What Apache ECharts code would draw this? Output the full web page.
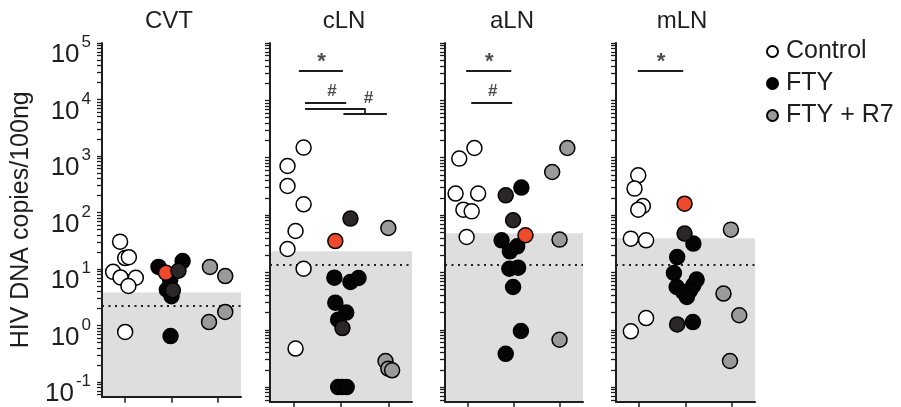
<!DOCTYPE html>
<html>
<head>
<meta charset="utf-8">
<script src="https://cdn.jsdelivr.net/npm/echarts@6/dist/echarts.min.js"></script>
<style>
html, body { margin: 0; padding: 0; background: #fff; }
#main { width: 901px; height: 407px; }
</style>
</head>
<body>
<div id="main"></div>
<script>
// panels and groups
const panels = ['CVT', 'cLN', 'aLN', 'mLN'];
const groups = ['Control', 'FTY', 'FTY + R7'];
const yTicks = [0.1, 1, 10, 100, 1000, 10000, 100000];
const Y_MIN = 0.055;

// each point: [x jitter around group index, HIV DNA copies/100ng]
const controlData = [
  [[-0.11, 30.5], [0.0, 15.6], [0.08, 16.2], [-0.26, 8.9], [-0.1, 7.1], [0.23, 7.0], [0.07, 5.0], [0.0, 0.77]],
  [[0.21, 1500], [-0.13, 716], [-0.13, 321], [0.21, 154], [0.04, 52.7], [-0.13, 25.6], [0.21, 11.6], [0.04, 0.47]],
  [[0.14, 1476], [-0.19, 964], [-0.27, 237], [0.22, 237], [-0.1, 124], [0.08, 116], [-0.03, 41.4]],
  [[-0.02, 493], [-0.1, 289], [0.08, 144], [-0.02, 124], [-0.18, 38.8], [0.15, 36.3], [0.15, 1.6], [-0.18, 0.94]]
];
const ftyData = [
  [[0.72, 10.9], [1.24, 13.8], [0.97, 6.4], [0.90, 4.3], [1.0, 3.3], [0.98, 0.65], [0.88, 8.6], [1.15, 9.3], [1.03, 4.2]],
  [[0.86, 8.1], [1.2, 6.8], [1.37, 8.0], [0.88, 2.97], [1.11, 1.99], [0.94, 1.5], [0.94, 0.1], [1.03, 0.1], [1.12, 0.1],
   [0.88, 35.2], [1.2, 86.7], [1.03, 1.07]],
  [[1.16, 301], [0.73, 36.3], [1.07, 28.5], [0.91, 23.3], [0.90, 11.6], [1.09, 12.1], [0.98, 5.56], [1.15, 0.95], [0.82, 0.38],
   [0.82, 221], [0.98, 81.3], [1.25, 44.4]],
  [[1.17, 31.8], [0.82, 18.5], [0.75, 9.77], [1.24, 7.5], [0.81, 5.56], [1.17, 5.96], [1.1, 4.87], [0.95, 4.55], [1.03, 3.72],
   [1.16, 1.36], [0.82, 1.24], [0.98, 47.5], [0.98, 158]]
];
// which FTY animals are marked red / dark
const ftyRed = [6, 9, 11, 12];
const ftyDark = [[7, 8], [10, 11], [9, 10], [10, 11]];
const r7Data = [
  [[1.83, 10.9], [2.16, 7.5], [2.16, 1.74], [1.81, 1.15]],
  [[2.0, 59.4], [1.94, 0.285], [2.0, 0.21], [2.08, 0.196]],
  [[2.16, 1476], [1.83, 563], [1.99, 37.3], [1.99, 0.67]],
  [[1.98, 55.7], [1.82, 4.27], [2.16, 1.79], [1.96, 0.285]]
];
// detection limit (shaded) and cutoff (dotted)
const lodLimit = [3.83, 23.3, 48, 39.4];
const cutoff = [2.27, 13.8, 13.8, 13.8];

// significance bars: [x1, y1, x2, y2] and labels [text, x, y]
const sigLines = [
  [],
  [[0.11, 33400, 1.04, 33400], [0.24, 9250, 1.11, 9250], [0.24, 7260, 1.51, 7260], [1.51, 7260, 1.51, 5940], [1.05, 5940, 1.97, 5940]],
  [[-0.04, 33400, 0.94, 33400], [0.07, 9250, 0.96, 9250]],
  [[-0.03, 33400, 0.95, 33400]]
];
const sigText = [
  [],
  [['*', 0.59, 46000], ['#', 0.81, 14400], ['#', 1.58, 10900]],
  [['*', 0.46, 46000], ['#', 0.54, 14400]],
  [['*', 0.47, 46000]]
];

const FONT = 'Liberation Sans';
const INK = '#1e1e1e';
const gridPos = [{ left: 102, width: 139 }, { left: 270, width: 142 }, { left: 445, width: 138 }, { left: 616, width: 139 }];
const titleX = [169, 344, 512, 682];

// decades plus the 2..9 steps in between
const allTicks = yTicks.slice();
for (let d = -2; d < 5; d++) {
  for (let m = 2; m <= 9; m++) {
    const v = +(m * Math.pow(10, d)).toPrecision(3);
    if (v >= Y_MIN) allTicks.push(v);
  }
}

const chart = echarts.init(document.getElementById('main'));

const grid = [], xAxis = [], yAxis = [], series = [];
panels.forEach((p, i) => {
  grid.push({ left: gridPos[i].left, width: gridPos[i].width, top: 43, height: 359 });
  xAxis.push({
    type: 'value', gridIndex: i, min: -0.5, max: 2.5, z: 5,
    axisLine: { onZero: false, lineStyle: { color: INK, width: 2 } },
    axisTick: { customValues: [0, 1, 2], length: 6, lineStyle: { color: INK, width: 1.5 } },
    axisLabel: { show: false },
    splitLine: { show: false }
  });
  yAxis.push({
    type: 'log', gridIndex: i, position: 'left', min: Y_MIN, max: 100000, z: 5,
    axisLine: { show: true, onZero: false, lineStyle: { color: INK, width: 2 } },
    axisTick: { show: true, customValues: allTicks, length: 5, lineStyle: { color: INK, width: 1.3 } },
    axisLabel: i === 0 ? {
      show: true,
      customValues: yTicks,
      margin: 11,
      padding: [16, 0, 0, 0],
      formatter: v => '{b|10}{s|' + Math.round(Math.log10(v)) + '}',
      rich: {
        b: { fontSize: 26, lineHeight: 34, verticalAlign: 'bottom', color: INK, fontFamily: FONT },
        s: { fontSize: 17, lineHeight: 17, verticalAlign: 'top', color: INK, fontFamily: FONT, padding: [0, 0, 0, 2] }
      }
    } : { show: false },
    splitLine: { show: false },
    name: i === 0 ? 'HIV DNA copies/100ng' : '',
    nameLocation: 'middle',
    nameRotate: 90,
    nameGap: 68,
    nameTextStyle: { fontSize: 25, color: INK, fontFamily: FONT }
  });

  // shaded detection region and dotted cutoff
  series.push({
    type: 'scatter', xAxisIndex: i, yAxisIndex: i, data: [], z: 1, silent: true,
    markArea: {
      silent: true, z: 1,
      itemStyle: { color: '#dedede' },
      data: [[{ yAxis: Y_MIN }, { yAxis: lodLimit[i] }]]
    },
    markLine: {
      silent: true, z: 1, symbol: 'none',
      label: { show: false },
      lineStyle: { color: INK, width: 2, type: [2, 4.5] },
      data: [{ yAxis: cutoff[i] }]
    }
  });

  series.push({
    name: 'Control', type: 'scatter', xAxisIndex: i, yAxisIndex: i, z: 3,
    symbolSize: 15,
    itemStyle: { color: '#ffffff', borderColor: '#000', borderWidth: 1.5, opacity: 1 },
    data: controlData[i]
  });
  series.push({
    name: 'FTY', type: 'scatter', xAxisIndex: i, yAxisIndex: i, z: 3,
    symbolSize: 15,
    itemStyle: { color: '#050505', borderColor: '#000', borderWidth: 1.5, opacity: 1 },
    data: ftyData[i].map((d, k) => {
      if (k === ftyRed[i]) return { value: d, itemStyle: { color: '#ee4a2b' } };
      if (ftyDark[i].includes(k)) return { value: d, itemStyle: { color: '#2b2627' } };
      return d;
    })
  });
  series.push({
    name: 'FTY + R7', type: 'scatter', xAxisIndex: i, yAxisIndex: i, z: 3,
    symbolSize: 15,
    itemStyle: { color: '#9a9a9a', borderColor: '#000', borderWidth: 1.5, opacity: 1 },
    data: r7Data[i]
  });

  // significance marks
  series.push({
    type: 'scatter', xAxisIndex: i, yAxisIndex: i, z: 4, silent: true,
    symbolSize: 0,
    label: { show: true, position: 'inside', color: INK, fontFamily: FONT, formatter: q => q.data.t },
    data: sigText[i].map(s => ({
      value: [s[1], s[2]], t: s[0],
      label: s[0] === '*' ? { fontSize: 22, fontWeight: 'bold' } : { fontSize: 17, fontWeight: 'bold' }
    })),
    markLine: {
      silent: true, symbol: 'none',
      label: { show: false },
      lineStyle: { color: INK, width: 1.8, type: 'solid' },
      data: sigLines[i].map(s => [{ coord: [s[0], s[1]] }, { coord: [s[2], s[3]] }])
    }
  });
});

chart.setOption({
  animation: false,
  title: panels.map((p, i) => ({
    text: p, left: titleX[i], top: 9, textAlign: 'center', padding: 0,
    textStyle: { fontSize: 24, fontWeight: 'normal', color: INK, fontFamily: FONT }
  })),
  legend: {
    data: groups,
    orient: 'vertical',
    left: 761, top: 34,
    icon: 'circle',
    itemWidth: 11, itemHeight: 11, itemGap: 7,
    selectedMode: false,
    textStyle: { fontSize: 25, color: INK, fontFamily: FONT, padding: [0, 0, 0, 3] }
  },
  grid: grid,
  xAxis: xAxis,
  yAxis: yAxis,
  series: series
});
</script>
</body>
</html>
